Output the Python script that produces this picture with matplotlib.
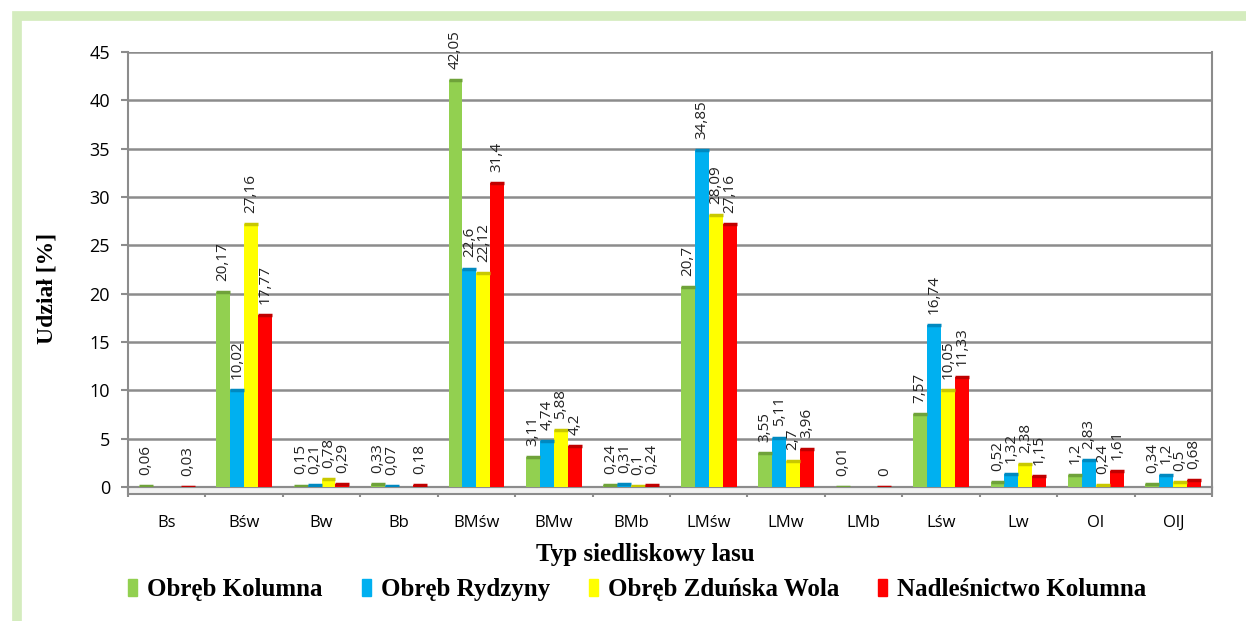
import numpy as np
import matplotlib.pyplot as plt
from matplotlib.patches import Rectangle, Patch

# Typy siedliskowe lasu i udziały [%]
categories = ['Bs', 'Bśw', 'Bw', 'Bb', 'BMśw', 'BMw', 'BMb',
              'LMśw', 'LMw', 'LMb', 'Lśw', 'Lw', 'Ol', 'OlJ']
nan = np.nan
kolumna = [0.06, 20.17, 0.15, 0.33, 42.05, 3.11, 0.24, 20.7, 3.55, 0.01, 7.57, 0.52, 1.2, 0.34]
rydzyny = [nan, 10.02, 0.21, 0.07, 22.6, 4.74, 0.31, 34.85, 5.11, nan, 16.74, 1.32, 2.83, 1.2]
zdunska = [nan, 27.16, 0.78, nan, 22.12, 5.88, 0.1, 28.09, 2.7, nan, 10.05, 2.38, 0.24, 0.5]
nadlesnictwo = [0.03, 17.77, 0.29, 0.18, 31.4, 4.2, 0.24, 27.16, 3.96, 0, 11.33, 1.15, 1.61, 0.68]

series = ['Obręb Kolumna', 'Obręb Rydzyny', 'Obręb Zduńska Wola', 'Nadleśnictwo Kolumna']
values = [kolumna, rydzyny, zdunska, nadlesnictwo]
colors = ['#92D050', '#00B0F0', '#FFFF00', '#FF0000']
tops = ['#6FA23A', '#0089C0', '#C8C800', '#C00000']

fig = plt.figure(figsize=(12.46, 6.21), dpi=100)

# green frame around the chart
fig.patches.append(Rectangle((0.014, -0.05), 1.1, 1.025, transform=fig.transFigure,
                             fill=False, edgecolor='#D4ECBE', linewidth=7, zorder=0))

ax = fig.add_axes([0.1027, 0.2158, 0.8700, 0.7005])

x = np.arange(len(categories))
w = 0.18
for i, (name, vals) in enumerate(zip(series, values)):
    pos = x + (i - 1.5) * w
    vals = np.array(vals, dtype=float)
    ax.bar(pos, vals, width=w, color=colors[i], linewidth=0, label=name, zorder=3)
    # darker top face, like the 3D columns in Excel
    ok = ~np.isnan(vals)
    ax.hlines(vals[ok], pos[ok] - w / 2, pos[ok] + w / 2, color=tops[i], linewidth=2.5, zorder=4)
    for p, v in zip(pos, vals):
        if np.isnan(v):
            continue
        txt = f'{v:g}'.replace('.', ',')
        ax.annotate(txt, (p, v), xytext=(0, 8), textcoords='offset points',
                    rotation=90, ha='center', va='bottom', fontsize=11,
                    family='Open Sans', color='#222222', zorder=5)

ax.set_xlim(-0.5, len(categories) - 0.5)
ax.set_ylim(0, 45)
ax.set_yticks(range(0, 50, 5))
ax.yaxis.grid(True, color='#8C8C8C', linewidth=1.8, zorder=0)
ax.set_axisbelow(True)

ax.set_xticks(x)
ax.set_xticklabels(categories, family='Open Sans', fontsize=12)
ax.set_xticks(np.arange(-0.5, len(categories), 1), minor=True)
ax.tick_params(axis='x', which='major', length=0, pad=20)
ax.tick_params(axis='x', which='minor', length=7, color='#8C8C8C', width=1.5)
ax.tick_params(axis='y', length=5, color='#8C8C8C', width=1.5, labelsize=13, pad=8)
for lab in ax.get_yticklabels():
    lab.set_family('Open Sans')

ax.spines['top'].set_visible(False)
for side in ['left', 'right', 'bottom']:
    ax.spines[side].set_color('#8C8C8C')
    ax.spines[side].set_linewidth(1.5)

# floor of the 3D-like plot
ax.add_patch(Rectangle((-0.5, -0.7), len(categories), 0.7, transform=ax.transData,
                       facecolor='#F2F2F2', edgecolor='#8C8C8C', linewidth=1.5,
                       clip_on=False, zorder=2))

ax.set_ylabel('Udział [%]', family='Liberation Serif', fontweight='bold', fontsize=17)
ax.yaxis.set_label_coords(-0.065, 0.457)
ax.set_xlabel('Typ siedliskowy lasu', family='Liberation Serif', fontweight='bold', fontsize=18)
ax.xaxis.set_label_coords(0.477, -0.128)

handles = [Patch(facecolor=c, edgecolor=c) for c in colors]
leg = fig.legend(handles, series, loc='center left', bbox_to_anchor=(0.085, 0.05), ncol=4,
                 frameon=False, handlelength=0.36, handleheight=0.7, handletextpad=0.4,
                 columnspacing=1.55, prop={'family': 'Liberation Serif', 'weight': 'bold', 'size': 18})

fig.savefig('out.png', dpi=100)
